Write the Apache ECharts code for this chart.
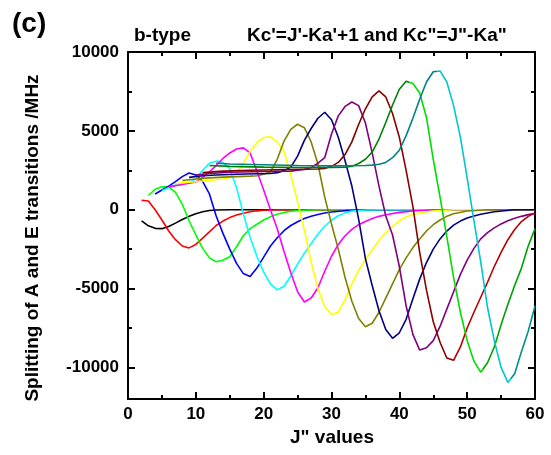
<!DOCTYPE html>
<html><head><meta charset="utf-8">
<script src="https://cdn.jsdelivr.net/npm/echarts@6/dist/echarts.min.js"></script>
<style>html,body{margin:0;padding:0;background:#fff}#c{width:551px;height:455px}</style>
</head><body><div id="c"></div>
<script>
const yMajorTicks = [-10000, -5000, 0, 5000, 10000];
const yMinorTicks = [-7500, -2500, 2500, 7500];
const curveColors = ['#000000','#ff0000','#00ff00','#0000ff','#00ffff','#ff00ff','#ffff00','#808000','#000080','#800080','#800000','#008000','#008080'];

const c1 = [[2,-700],[3,-1020],[4,-1180],[5,-1200],[6,-1060],[7,-850],[8,-620],[9,-420],[10,-250],[11,-130],[12,-50],[13,-15],[15,0],[60,0]];
const c2 = [[2,600],[3,550],[4,0],[5,-650],[6,-1350],[7,-1900],[8,-2300],[9,-2420],[10,-2200],[11,-1800],[12,-1400],[13,-1000],[14,-720],[15,-500],[16,-340],[17,-220],[18,-130],[19,-70],[20,-35],[22,0],[60,0]];
const c3 = [[3,900],[4,1300],[5,1450],[6,1450],[7,1100],[8,350],[9,-700],[10,-1600],[11,-2450],[12,-3050],[13,-3300],[14,-3200],[15,-2980],[16,-2350],[17,-1650],[18,-1200],[19,-920],[20,-650],[21,-450],[22,-290],[23,-170],[24,-100],[26,-30],[28,0],[60,0]];
const c4 = [[4,1000],[5,1250],[6,1500],[7,1780],[8,2100],[9,2330],[10,2200],[11,1800],[12,1000],[13,-400],[14,-1500],[15,-2500],[16,-3400],[17,-4050],[18,-4230],[19,-3700],[20,-3000],[21,-2300],[22,-1780],[23,-1330],[24,-1000],[25,-760],[26,-560],[27,-410],[28,-300],[29,-210],[30,-140],[32,-60],[35,0],[60,0]];
const c5 = [[5,1200],[6,1400],[7,1550],[8,1650],[9,1720],[10,1950],[11,2500],[12,2950],[13,3080],[14,3000],[15,2600],[16,1400],[17,-250],[18,-1750],[19,-2950],[20,-3950],[21,-4700],[22,-5080],[23,-4850],[24,-4200],[25,-3450],[26,-2750],[27,-2150],[28,-1550],[29,-1050],[30,-650],[31,-380],[32,-200],[33,-90],[35,-20],[37,0],[60,0]];
const c6 = [[6,1450],[7,1530],[8,1600],[9,1680],[10,1760],[11,2050],[12,2400],[13,2800],[14,3250],[15,3600],[16,3850],[17,3920],[18,3600],[19,2450],[20,1250],[21,0],[22,-1200],[23,-2650],[24,-4000],[25,-5200],[26,-5850],[27,-5600],[28,-4950],[29,-3900],[30,-2950],[31,-2200],[32,-1650],[33,-1250],[34,-950],[35,-750],[36,-560],[37,-420],[38,-320],[40,-170],[42,-80],[45,0],[60,0]];
const c7 = [[7,1650],[8,1700],[9,1740],[10,1780],[11,1820],[12,1860],[13,1900],[14,1950],[15,2050],[16,2300],[17,2950],[18,3700],[19,4250],[20,4580],[21,4620],[22,4300],[23,3700],[24,2200],[25,500],[26,-1300],[27,-3300],[28,-5000],[29,-6150],[30,-6640],[31,-6500],[32,-5700],[33,-4700],[34,-3850],[35,-3150],[36,-2550],[37,-1950],[38,-1450],[39,-1050],[40,-700],[41,-450],[42,-300],[43,-200],[45,-80],[48,0],[60,0]];
const c8 = [[8,1850],[10,1950],[12,2020],[14,2070],[16,2100],[18,2130],[19,2150],[20,2250],[21,2400],[22,3200],[23,4350],[24,5100],[25,5420],[26,5200],[27,4300],[28,2900],[29,800],[30,-900],[31,-2500],[32,-4300],[33,-5800],[34,-6900],[35,-7420],[36,-7200],[37,-6500],[38,-5600],[39,-4700],[40,-3800],[41,-3050],[42,-2400],[43,-1850],[44,-1350],[45,-950],[46,-650],[47,-420],[48,-250],[50,-80],[53,0],[60,0]];
const c9 = [[9,2050],[11,2150],[13,2200],[16,2250],[19,2280],[21,2300],[22,2350],[23,2480],[24,2700],[25,3400],[26,4400],[27,5150],[28,5800],[29,6180],[30,5700],[31,4600],[32,3100],[33,1500],[34,-600],[35,-3100],[36,-4800],[37,-6400],[38,-7600],[39,-8150],[40,-7800],[41,-6950],[42,-5650],[43,-4400],[44,-3350],[45,-2500],[46,-1850],[47,-1350],[48,-980],[49,-720],[50,-530],[51,-400],[52,-290],[54,-130],[57,0],[60,0]];
const c10 = [[10,2200],[12,2300],[15,2380],[20,2420],[24,2450],[25,2500],[26,2550],[27,2680],[28,2950],[29,3300],[30,4800],[31,5950],[32,6550],[33,6830],[34,6600],[35,5500],[36,3600],[37,1500],[38,-400],[39,-1600],[40,-3600],[41,-6100],[42,-7900],[43,-8900],[44,-8750],[45,-8300],[46,-7400],[47,-6300],[48,-5200],[49,-4100],[50,-3200],[51,-2450],[52,-1850],[53,-1450],[54,-1150],[55,-900],[56,-700],[57,-540],[58,-420],[59,-310],[60,-240]];
const c11 = [[11,2350],[14,2450],[18,2500],[24,2550],[28,2580],[29,2620],[30,2750],[31,3000],[32,3500],[33,4300],[34,5400],[35,6400],[36,7150],[37,7530],[38,7150],[39,6100],[40,4600],[41,2500],[42,200],[43,-2700],[44,-5100],[45,-7100],[46,-8400],[47,-9400],[48,-9550],[49,-8700],[50,-7500],[51,-6500],[52,-5550],[53,-4600],[54,-3600],[55,-2700],[56,-1900],[57,-1250],[58,-750],[59,-420],[60,-200]];
const c12 = [[12,2800],[15,2750],[20,2700],[25,2680],[30,2680],[32,2700],[33,2760],[34,2930],[35,3200],[36,3650],[37,4480],[38,5530],[39,6640],[40,7640],[41,8140],[42,8000],[43,7400],[44,5850],[45,3200],[46,800],[47,-1700],[48,-4300],[49,-6500],[50,-8300],[51,-9600],[52,-10300],[53,-9700],[54,-8700],[55,-7300],[56,-6000],[57,-4800],[58,-3700],[59,-2300],[60,-1200]];
const c13 = [[13,2950],[15,2900],[20,2850],[25,2800],[30,2780],[35,2800],[36,2830],[37,2880],[38,3000],[39,3300],[40,3770],[41,4700],[42,5800],[43,7000],[44,8100],[45,8750],[46,8800],[47,8100],[48,6600],[49,4600],[50,2000],[51,-700],[52,-3300],[53,-6200],[54,-8300],[55,-10000],[56,-10950],[57,-10400],[58,-9000],[59,-7700],[60,-6100]];
const curves = [c1,c2,c3,c4,c5,c6,c7,c8,c9,c10,c11,c12,c13];

const FONT = '"Liberation Sans", Arial, sans-serif';
const chart = echarts.init(document.getElementById('c'), null, {renderer: 'canvas'});

function twoTone(c0, c1, c2, a, b) {
  return {type: 'linear', x: 0, y: 0, x2: 1, y2: 0, colorStops: [
    {offset: 0, color: c0}, {offset: a, color: c0}, {offset: a, color: c1},
    {offset: b, color: c1}, {offset: b, color: c2}, {offset: 1, color: c2}]};
}
const lineColors = curveColors.slice();
lineColors[10] = twoTone('#800000', '#8a0000', '#b80000', 0.5, 0.747);
lineColors[11] = twoTone('#008000', '#00dd00', '#00a000', 0.61, 0.835);
lineColors[12] = twoTone('#008080', '#00c8c8', '#008f8f', 0.69, 0.919);

function xAx(pos, labels, anchorIdx) {
  return {
    type: 'value', min: 0, max: 60, interval: 10, position: pos,
    axisLine: {show: true, onZero: true, onZeroAxisIndex: anchorIdx, lineStyle: {color: '#000', width: 2}},
    axisTick: {show: true, inside: true, length: 7, lineStyle: {color: '#000', width: 2}},
    minorTick: {show: true, splitNumber: 2, length: 4, lineStyle: {color: '#000', width: 2}},
    splitLine: {show: false},
    axisLabel: {show: labels, color: '#000', fontSize: 17, fontWeight: 'bold', fontFamily: FONT, margin: 7}
  };
}
function yAx(pos, ticks, len, labels, line) {
  return {
    type: 'value', min: -12000, max: 10000, position: pos,
    axisLine: {show: line, onZero: false, lineStyle: {color: '#000', width: 2}},
    axisTick: {show: true, inside: true, length: len, customValues: ticks, lineStyle: {color: '#000', width: 2}},
    splitLine: {show: false},
    axisLabel: {show: labels, customValues: ticks, color: '#000', fontSize: 17, fontWeight: 'bold', fontFamily: FONT, margin: 9,
      formatter: v => String(v)}
  };
}
function anchorAx(mn, mx) {
  return {type: 'value', min: mn, max: mx, position: 'left',
    axisLine: {show: false, onZero: false}, axisTick: {show: false}, axisLabel: {show: false}, splitLine: {show: false}};
}

chart.setOption({
  animation: false,
  grid: {left: 128, right: 16, top: 52, bottom: 56},
  xAxis: [xAx('bottom', true, 4), xAx('top', false, 5)],
  yAxis: [yAx('left', yMajorTicks, 7, true, true), yAx('left', yMinorTicks, 4, false, false),
          yAx('right', yMajorTicks, 7, false, true), yAx('right', yMinorTicks, 4, false, false),
          anchorAx(0, 1), anchorAx(-1, 0)],
  series: curves.map((d, i) => ({
    type: 'line', data: d, xAxisIndex: 0, yAxisIndex: 0,
    showSymbol: false, symbol: 'none', clip: true,
    lineStyle: {color: lineColors[i], width: 1.6},
    itemStyle: {color: curveColors[i]}, z: 2 + i
  })),
  graphic: [
    {type: 'text', left: 12, top: 10, style: {text: '(c)', font: 'bold 28px ' + FONT, fill: '#000'}},
    {type: 'text', left: 134, top: 26, style: {text: 'b-type', font: 'bold 19px ' + FONT, fill: '#000'}},
    {type: 'text', left: 247, top: 26, style: {text: 'Kc\'=J\'-Ka\'+1 and Kc"=J"-Ka"', font: 'bold 19px ' + FONT, fill: '#000'}},
    {type: 'text', x: 33, y: 238, rotation: Math.PI / 2,
      style: {text: 'Splitting of A and E transitions /MHz', font: 'bold 19px ' + FONT, fill: '#000', textAlign: 'center', textVerticalAlign: 'middle'}},
    {type: 'text', x: 332, y: 438,
      style: {text: 'J" values', font: 'bold 19px ' + FONT, fill: '#000', textAlign: 'center', textVerticalAlign: 'middle'}}
  ]
});
</script>
</body></html>
